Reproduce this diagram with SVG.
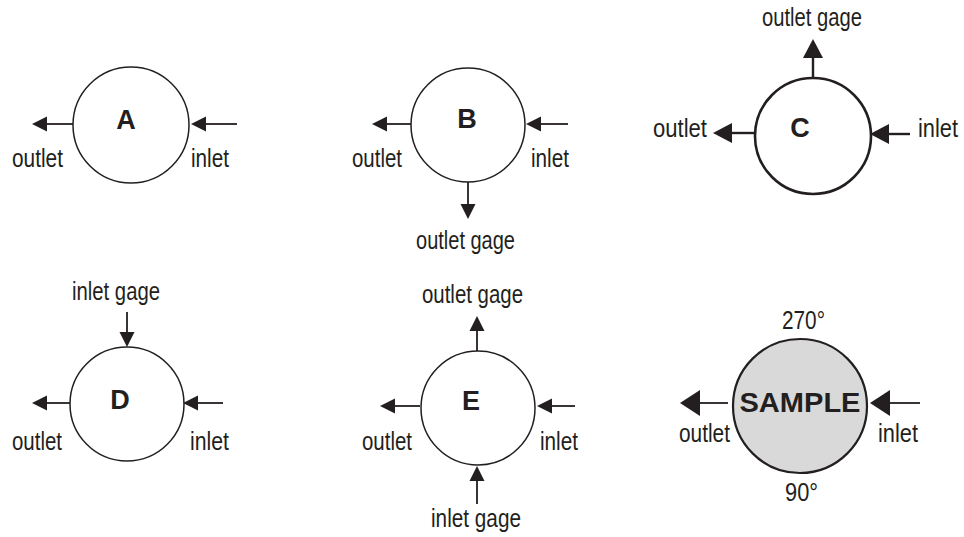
<svg xmlns="http://www.w3.org/2000/svg" width="964" height="537" viewBox="0 0 964 537">
<style>
.bg{fill:#ffffff}
.ring{fill:#ffffff;stroke:#231f20;stroke-width:1.5}
.ring2{fill:#ffffff;stroke:#231f20;stroke-width:2.6}
.ringS{fill:#d9d9d9;stroke:#231f20;stroke-width:2.2}
.lbl{font-family:"Liberation Sans Narrow","Liberation Sans",Arial,sans-serif;font-size:26px;fill:#231f20}
.big{font-family:"Liberation Sans",Arial,sans-serif;font-weight:bold;font-size:27px;fill:#231f20;text-anchor:middle}
.ln{stroke:#231f20;stroke-width:1.8;fill:none}
.ln2{stroke:#231f20;stroke-width:2.4;fill:none}
.hd{fill:#231f20;stroke:none}
</style>
<rect class="bg" x="0" y="0" width="964" height="537"/>

<g id="nodeA">
<circle class="ring" cx="131" cy="125" r="58"/>
<text class="big" x="126" y="129">A</text>
<text class="lbl" x="12" y="167" textLength="51" lengthAdjust="spacingAndGlyphs">outlet</text>
<text class="lbl" x="191" y="167" textLength="38" lengthAdjust="spacingAndGlyphs">inlet</text>
</g>

<g id="nodeB">
<circle class="ring" cx="468" cy="125" r="57"/>
<text class="big" x="467" y="128">B</text>
<text class="lbl" x="352" y="167" textLength="50" lengthAdjust="spacingAndGlyphs">outlet</text>
<text class="lbl" x="531" y="167" textLength="38" lengthAdjust="spacingAndGlyphs">inlet</text>
<text class="lbl" x="416" y="249" textLength="99" lengthAdjust="spacingAndGlyphs">outlet gage</text>
</g>

<g id="nodeC">
<circle class="ring2" cx="813" cy="136" r="58"/>
<text class="big" x="800" y="137">C</text>
<text class="lbl" x="653" y="137" textLength="54" lengthAdjust="spacingAndGlyphs">outlet</text>
<text class="lbl" x="918" y="137" textLength="40" lengthAdjust="spacingAndGlyphs">inlet</text>
<text class="lbl" x="762" y="26" textLength="100" lengthAdjust="spacingAndGlyphs">outlet gage</text>
</g>

<g id="nodeD">
<circle class="ring" cx="127" cy="404" r="57"/>
<text class="big" x="120" y="409">D</text>
<text class="lbl" x="12" y="450" textLength="50" lengthAdjust="spacingAndGlyphs">outlet</text>
<text class="lbl" x="190" y="450" textLength="39" lengthAdjust="spacingAndGlyphs">inlet</text>
<text class="lbl" x="72" y="300" textLength="88" lengthAdjust="spacingAndGlyphs">inlet gage</text>
</g>

<g id="nodeE">
<circle class="ring" cx="478" cy="408" r="57"/>
<text class="big" x="471" y="410">E</text>
<text class="lbl" x="362" y="450" textLength="50" lengthAdjust="spacingAndGlyphs">outlet</text>
<text class="lbl" x="540" y="450" textLength="38" lengthAdjust="spacingAndGlyphs">inlet</text>
<text class="lbl" x="422" y="303" textLength="101" lengthAdjust="spacingAndGlyphs">outlet gage</text>
<text class="lbl" x="431" y="527" textLength="90" lengthAdjust="spacingAndGlyphs">inlet gage</text>
</g>

<g id="nodeSample">
<circle class="ringS" cx="800" cy="406" r="67"/>
<text class="big" x="800" y="412" style="font-size:28px" textLength="121" lengthAdjust="spacingAndGlyphs">SAMPLE</text>
<text class="lbl" x="679" y="442" textLength="51" lengthAdjust="spacingAndGlyphs">outlet</text>
<text class="lbl" x="878" y="442" textLength="40" lengthAdjust="spacingAndGlyphs">inlet</text>
<text class="lbl" x="782" y="329" textLength="43" lengthAdjust="spacingAndGlyphs">270°</text>
<text class="lbl" x="785" y="501" textLength="33" lengthAdjust="spacingAndGlyphs">90°</text>
</g>

<g id="connectors">
<line class="ln" x1="73" y1="124" x2="46" y2="124"/>
<polygon class="hd" points="32,124 47,116.5 47,131.5"/>
<line class="ln" x1="237" y1="124" x2="206" y2="124"/>
<polygon class="hd" points="191,124 206,116.5 206,131.5"/>
<line class="ln" x1="411" y1="124" x2="386" y2="124"/>
<polygon class="hd" points="372,124 387,116.5 387,131.5"/>
<line class="ln" x1="568" y1="124" x2="541" y2="124"/>
<polygon class="hd" points="526,124 541,116.5 541,131.5"/>
<line class="ln" x1="468" y1="182" x2="468" y2="204"/>
<polygon class="hd" points="468,219 460.5,204 475.5,204"/>
<line class="ln2" x1="755" y1="133" x2="731" y2="133"/>
<polygon class="hd" points="713,133 732,123 732,143"/>
<line class="ln2" x1="910" y1="134" x2="888" y2="134"/>
<polygon class="hd" points="870,134 889,124 889,144"/>
<line class="ln2" x1="813" y1="78" x2="813" y2="57"/>
<polygon class="hd" points="813,39 803,58 823,58"/>
<line class="ln" x1="70" y1="403" x2="46" y2="403"/>
<polygon class="hd" points="32,403 47,395.5 47,410.5"/>
<line class="ln" x1="223" y1="403" x2="197" y2="403"/>
<polygon class="hd" points="183,403 198,395.5 198,410.5"/>
<line class="ln" x1="127" y1="312" x2="127" y2="334"/>
<polygon class="hd" points="127,347 119.5,332 134.5,332"/>
<line class="ln" x1="420" y1="406" x2="394" y2="406"/>
<polygon class="hd" points="380,406 395,398.5 395,413.5"/>
<line class="ln" x1="575" y1="406" x2="551" y2="406"/>
<polygon class="hd" points="537,406 552,398.5 552,413.5"/>
<line class="ln" x1="477" y1="351" x2="477" y2="330"/>
<polygon class="hd" points="477,316 469.5,331 484.5,331"/>
<line class="ln" x1="477" y1="504" x2="477" y2="481"/>
<polygon class="hd" points="477,466 469.5,481 484.5,481"/>
<line class="ln" x1="728" y1="403" x2="699" y2="403"/>
<polygon class="hd" points="680,403 700,390 700,416"/>
<line class="ln" x1="920" y1="403" x2="889" y2="403"/>
<polygon class="hd" points="870,403 890,390 890,416"/>
</g>
</svg>
